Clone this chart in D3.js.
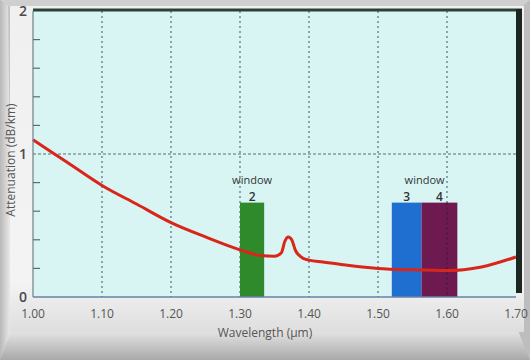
<!DOCTYPE html>
<html><head><meta charset="utf-8">
<script src="https://cdn.jsdelivr.net/npm/d3@7"></script>
<style>html,body{margin:0;padding:0;background:#e4e4e4;overflow:hidden}</style>
</head><body>
<script>
const wavelengths = [1.00,1.05,1.10,1.15,1.20,1.25,1.30,1.33,1.35,1.36,1.365,1.37,1.375,1.38,1.39,1.40,1.42,1.45,1.50,1.55,1.60,1.65,1.70];
const attenuation = [1.10,0.94,0.78,0.65,0.52,0.42,0.33,0.29,0.285,0.31,0.39,0.42,0.40,0.33,0.275,0.258,0.245,0.225,0.20,0.19,0.185,0.21,0.28];
const xTicks = [1.00,1.10,1.20,1.30,1.40,1.50,1.60,1.70];
const yLabels = [0,1,2];
const yMinor = [0.2,0.4,0.6,0.8,1.2,1.4,1.6,1.8];
const windowNames = ["2","3","4"];
const windowStart = [1.30,1.52,1.563];
const windowEnd = [1.335,1.563,1.615];
const windowTop = [0.66,0.66,0.66];
const windowColors = ["#2f8a2c","#1f6fd0","#6e1a50"];

const W=530,H=360;
const svg=d3.select("body").append("svg").attr("width",W).attr("height",H);
const defs=svg.append("defs");
const g1=defs.append("linearGradient").attr("id","bot").attr("x1",0).attr("y1",0).attr("x2",0).attr("y2",1);
g1.append("stop").attr("offset",0).attr("stop-color","#e6e6e6");
g1.append("stop").attr("offset",1).attr("stop-color","#a9a9a9");
const g2=defs.append("linearGradient").attr("id","lft").attr("x1",0).attr("y1",0).attr("x2",1).attr("y2",0);
g2.append("stop").attr("offset",0).attr("stop-color","#b8b8b8");
g2.append("stop").attr("offset",1).attr("stop-color","#f2f2f2");
const g3=defs.append("linearGradient").attr("id","inner").attr("x1",0).attr("y1",0).attr("x2",0).attr("y2",1);
g3.append("stop").attr("offset",0).attr("stop-color","#f0f0f0");
g3.append("stop").attr("offset",0.85).attr("stop-color","#f3f3f3");
g3.append("stop").attr("offset",1).attr("stop-color","#dedede");

// frame
svg.append("rect").attr("width",W).attr("height",H).attr("fill","#c4c4c4");
svg.append("polygon").attr("points","0,0 530,0 522,6 8,6").attr("fill","#cfcfcf");
svg.append("polygon").attr("points","0,0 8,6 12,330 0,360").attr("fill","url(#lft)");
svg.append("polygon").attr("points","0,360 12,330 518,330 530,360").attr("fill","url(#bot)");
svg.append("polygon").attr("points","530,0 530,360 518,330 524,6").attr("fill","#bdbdbd");
svg.append("rect").attr("x",10).attr("y",6).attr("width",514).attr("height",326).attr("fill","url(#inner)");

const x=d3.scaleLinear().domain([1.0,1.7]).range([33,516]);
const y=d3.scaleLinear().domain([0,2]).range([297,11]);

// plot panel
svg.append("rect").attr("x",x(1.0)).attr("y",y(2)).attr("width",x(1.7)-x(1.0)).attr("height",y(0)-y(2)).attr("fill","#d8f5f3");

// grid
const grid=svg.append("g");
grid.selectAll("line.v").data(xTicks.slice(1,-1)).join("line")
  .attr("x1",d=>x(d)).attr("x2",d=>x(d)).attr("y1",y(2)).attr("y2",y(0))
  .attr("stroke","#55707a").attr("stroke-width",1.2).attr("stroke-dasharray","2,3");
grid.append("line").attr("x1",x(1.0)).attr("x2",x(1.7)).attr("y1",y(1)).attr("y2",y(1))
  .attr("stroke","#55707a").attr("stroke-width",1.2).attr("stroke-dasharray","3,2");

// windows
svg.selectAll("rect.win").data(windowNames).join("rect")
  .attr("x",(d,i)=>x(windowStart[i])).attr("width",(d,i)=>x(windowEnd[i])-x(windowStart[i]))
  .attr("y",(d,i)=>y(windowTop[i])).attr("height",(d,i)=>y(0)-y(windowTop[i]))
  .attr("fill",(d,i)=>windowColors[i]);
svg.append("line").attr("x1",x(1.6)).attr("x2",x(1.6)).attr("y1",y(windowTop[2])).attr("y2",y(0))
  .attr("stroke","#2a1030").attr("stroke-width",1.2).attr("stroke-dasharray","2,3").attr("opacity",0.6);

// curve
const line=d3.line().x(d=>x(d[0])).y(d=>y(d[1])).curve(d3.curveMonotoneX);
svg.append("path").datum(wavelengths.map((w,i)=>[w,attenuation[i]]))
  .attr("d",line).attr("fill","none").attr("stroke","#d9261a").attr("stroke-width",3);

// borders
svg.append("line").attr("x1",x(1.0)).attr("x2",x(1.7)+6).attr("y1",y(2)-1).attr("y2",y(2)-1).attr("stroke","#2a4236").attr("stroke-width",3);
svg.append("line").attr("x1",x(1.7)+3).attr("x2",x(1.7)+3).attr("y1",y(2)-2).attr("y2",y(0)-4).attr("stroke","#1c2620").attr("stroke-width",6);
svg.append("line").attr("x1",x(1.0)).attr("x2",x(1.0)).attr("y1",y(2)).attr("y2",y(0)).attr("stroke","#6f8088").attr("stroke-width",1.2);
svg.append("line").attr("x1",x(1.0)).attr("x2",x(1.7)).attr("y1",y(0)).attr("y2",y(0)).attr("stroke","#6a80a8").attr("stroke-width",1.5);

// y minor ticks
svg.selectAll("line.yt").data(yMinor).join("line")
  .attr("x1",x(1.0)).attr("x2",x(1.0)+7).attr("y1",d=>y(d)).attr("y2",d=>y(d))
  .attr("stroke","#55707a").attr("stroke-width",1.2);

const font="'Open Sans', 'Noto Sans', sans-serif";
svg.selectAll("text.yl").data(yLabels).join("text")
  .attr("x",x(1.0)-6).attr("y",d=>y(d)+5).attr("text-anchor","end")
  .attr("font-family",font).attr("font-size",14).attr("font-weight",600).attr("fill","#4a4a4a").text(d=>d);
svg.selectAll("text.xl").data(xTicks).join("text")
  .attr("x",d=>x(d)).attr("y",318).attr("text-anchor","middle")
  .attr("font-family",font).attr("font-size",12).attr("fill","#555").text(d=>d.toFixed(2));
svg.append("text").attr("x",265).attr("y",337).attr("text-anchor","middle")
  .attr("font-family",font).attr("font-size",12).attr("fill","#555").text("Wavelength (µm)");
svg.append("text").attr("transform","translate(15,160) rotate(-90)").attr("text-anchor","middle")
  .attr("font-family",font).attr("font-size",12).attr("fill","#555").text("Attenuation (dB/km)");

// window labels
svg.append("text").attr("x",(x(windowStart[0])+x(windowEnd[0]))/2).attr("y",y(windowTop[0])-19)
  .attr("text-anchor","middle").attr("font-family",font).attr("font-size",11).attr("fill","#333").text("window");
svg.append("text").attr("x",(x(windowStart[1])+x(windowEnd[2]))/2).attr("y",y(windowTop[1])-19)
  .attr("text-anchor","middle").attr("font-family",font).attr("font-size",11).attr("fill","#333").text("window");
svg.selectAll("text.wn").data(windowNames).join("text")
  .attr("x",(d,i)=>(x(windowStart[i])+x(windowEnd[i]))/2).attr("y",(d,i)=>y(windowTop[i])-2)
  .attr("text-anchor","middle").attr("font-family",font).attr("font-size",12).attr("font-weight",600).attr("fill","#333").text(d=>d);
</script>
</body></html>
